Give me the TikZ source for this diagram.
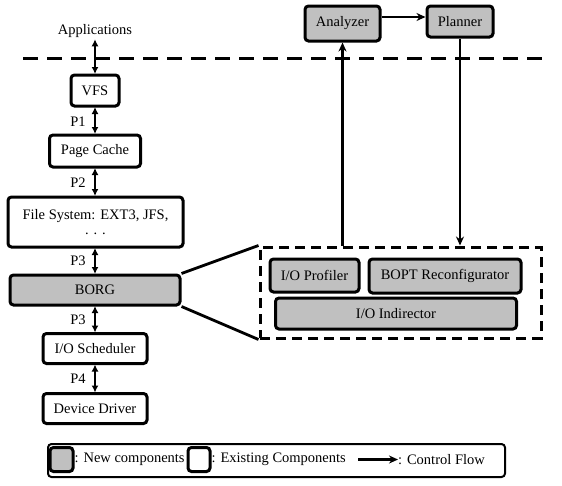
\documentclass[tikz,border=0pt]{standalone}
\usepackage{fontspec}
\setmainfont{Liberation Serif}
\usetikzlibrary{arrows.meta}
\definecolor{newgray}{RGB}{192,192,192}
\tikzset{
  box/.style={draw, line width=3pt, rounded corners=3.5pt, inner sep=0pt, align=center, font=\fs},
  newbox/.style={box, fill=newgray},
  lbl/.style={inner sep=0pt, font=\fs},
  dbl/.style={{Latex[length=7pt,width=7pt]}-{Latex[length=7pt,width=7pt]}, line width=2.2pt, shorten <=-0.5pt, shorten >=-0.5pt},
  ctrl/.style={-{Stealth[length=9pt,width=8pt]}, line width=2.6pt},
  sep/.style={line width=3pt, dash pattern=on 15pt off 9pt},
  dbox/.style={draw, line width=3pt, dash pattern=on 10pt off 6pt, minimum width=281pt, minimum height=91pt, inner sep=0pt}
}
\newcommand{\fs}{\fontsize{14.5}{16}\selectfont}
\begin{document}
\begin{tikzpicture}[x=1pt,y=-1pt]
\useasboundingbox (0,0) rectangle (562,485);
% separator
\coordinate (sl) at (23,58);
\coordinate (sr) at (545,58);
\draw[sep] (sl) -- (sr);
% left stack
\node[lbl] (app) at (95,31) {Applications};
\node[box, minimum width=48pt, minimum height=31pt] (vfs) at (95,90.5) {VFS};
\node[box, minimum width=91pt, minimum height=32pt] (pc) at (95,151) {Page Cache};
\node[box, minimum width=175pt, minimum height=50pt] (fs) at (95.5,222) {File System: EXT3, JFS,\\[-1pt] . . .};
\node[newbox, minimum width=170pt, minimum height=30pt] (borg) at (95,290) {BORG};
\node[box, minimum width=104pt, minimum height=30pt] (ios) at (95,348.5) {I/O Scheduler};
\node[box, minimum width=104pt, minimum height=30pt] (dd) at (95,408.5) {Device Driver};
\draw[dbl] ([yshift=-2pt]app.south) -- (vfs.north);
\draw[dbl] (vfs.south) -- (pc.north);
\draw[dbl] (pc.south) -- (fs.north -| pc.south);
\draw[dbl] (fs.south -| borg.north) -- (borg.north);
\draw[dbl] (borg.south) -- (ios.north);
\draw[dbl] (ios.south) -- (dd.north);
\node[lbl] (p1) at (78,122) {P1};
\node[lbl] (p2) at (78,183) {P2};
\node[lbl] (p3a) at (78,261) {P3};
\node[lbl] (p3b) at (78,320) {P3};
\node[lbl] (p4) at (78,379) {P4};
% right part
\node[newbox, minimum width=75pt, minimum height=35pt] (an) at (342.5,23.5) {Analyzer};
\node[newbox, minimum width=66pt, minimum height=31pt] (pl) at (460,21.5) {Planner};
\node[dbox] (db) at (400.5,292.5) {};
\node[newbox, minimum width=89pt, minimum height=33pt] (prof) at (314.5,275.5) {I/O Profiler};
\node[newbox, minimum width=152pt, minimum height=34pt] (bopt) at (445,276) {BOPT Reconfigurator};
\node[newbox, minimum width=241pt, minimum height=31pt] (ind) at (396,313.5) {I/O Indirector};
\draw[ctrl] (an.east |- 0,17) -- (pl.west |- 0,17);
\draw[ctrl] (db.north -| an.south) -- (an.south);
\draw[ctrl] (pl.south) -- (pl.south |- db.north);
\draw[line width=2.8pt] (borg.north east) -- (db.north west);
\draw[line width=2.8pt] (borg.south east) -- (db.south west);
% legend
\node[draw, line width=2pt, rounded corners=3.5pt, minimum width=457pt, minimum height=33pt] (leg) at (276.5,460.5) {};
\node[newbox, minimum width=23pt, minimum height=24pt] (lg1) at (61.5,459.5) {};
\node[lbl, anchor=west] (lt1) at (lg1.east) {: New components};
\node[box, minimum width=22pt, minimum height=24pt] (lg2) at (199,459.5) {};
\node[lbl, anchor=west] (lt2) at (lg2.east) {: Existing Components};
\coordinate (la) at (358,459.5);
\node[lbl, anchor=west] (lt3) at (398,459.5) {: Control Flow};
\draw[ctrl] (la) -- (lt3.west);
\end{tikzpicture}
\end{document}
